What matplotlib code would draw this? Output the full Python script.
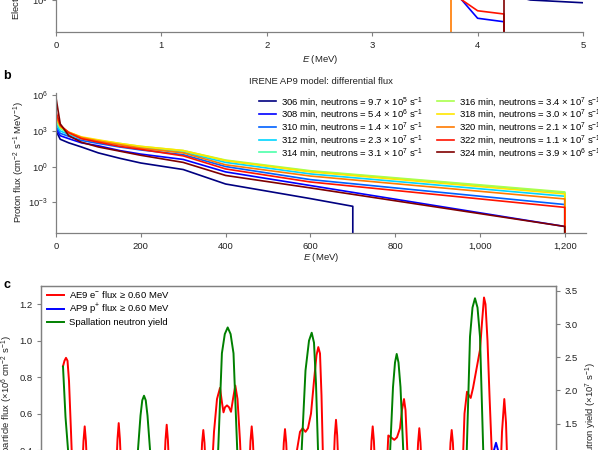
import numpy as np
import matplotlib
matplotlib.use('Agg')
import matplotlib.pyplot as plt
from matplotlib.ticker import FixedLocator, FuncFormatter, LogFormatterMathtext, NullLocator

plt.rcParams['font.family'] = ['Liberation Sans', 'DejaVu Sans']
plt.rcParams['mathtext.fontset'] = 'custom'
plt.rcParams['mathtext.rm'] = 'Liberation Sans'
plt.rcParams['mathtext.it'] = 'Liberation Sans:italic'
plt.rcParams['mathtext.bf'] = 'Liberation Sans:bold'
FS = 6.8
plt.rcParams['font.size'] = FS

# ---------------- panel a (AE9 electron differential flux, lower part only) -----------
a_E_306 = [4.0, 4.5, 5.0]
a_log_306 = [0.52, 0.0, -0.11]
a_E_308 = [3.6, 4.0, 4.25]
a_log_308 = [1.22, -0.73, -0.87]
a_E_320 = [3.5, 3.75]
a_log_320 = [2.9, 1.9]
a_E_322 = [3.5, 4.0, 4.25]
a_log_322 = [1.02, -0.43, -0.56]
a_E_324 = [4.0, 4.25]
a_log_324 = [2.4, 1.9]

# ---------------- panel b (IRENE AP9 proton differential flux) ------------------------
times_min = [306, 308, 310, 312, 314, 316, 318, 320, 322, 324]
neutron_mant = [9.7, 5.4, 1.4, 2.3, 3.1, 3.4, 3.0, 2.1, 1.1, 3.9]
neutron_exp = [5, 6, 7, 7, 7, 7, 7, 7, 7, 6]
E_grid = [0, 10, 30, 60, 100, 150, 200, 300, 400, 600, 1200]
E_grid_306 = [0, 10, 30, 60, 100, 150, 200, 300, 400, 600, 700]
logflux_306 = [3.0, 2.3, 2.0, 1.65, 1.15, 0.7, 0.3, -0.25, -1.47, -2.7, -3.35]
logflux_308 = [3.2, 2.6, 2.35, 2.0, 1.75, 1.35, 1.05, 0.6, -0.45, -1.6, -5.05]
logflux_310 = [3.4, 2.8, 2.55, 2.2, 1.95, 1.65, 1.4, 1.0, 0.0, -1.1, -3.2]
logflux_312 = [3.6, 3.0, 2.7, 2.35, 2.1, 1.85, 1.55, 1.2, 0.35, -0.62, -2.5]
logflux_314 = [3.9, 3.2, 2.8, 2.4, 2.15, 1.9, 1.65, 1.3, 0.5, -0.4, -2.2]
logflux_316 = [4.1, 3.3, 2.85, 2.45, 2.2, 1.95, 1.7, 1.35, 0.55, -0.35, -2.14]
logflux_318 = [4.2, 3.35, 2.9, 2.5, 2.25, 1.95, 1.7, 1.35, 0.5, -0.45, -2.31]
logflux_320 = [4.3, 3.4, 2.9, 2.45, 2.15, 1.85, 1.55, 1.15, 0.15, -0.8, -2.73]
logflux_322 = [4.6, 3.5, 2.85, 2.35, 2.05, 1.7, 1.45, 0.9, -0.2, -1.3, -3.44]
logflux_324 = [5.8, 3.6, 2.6, 2.05, 1.65, 1.3, 0.95, 0.35, -0.75, -1.8, -5.05]

# ---------------- panel c (time series) ------------------------------------------------
red_t = [4.4, 4.7, 5.0, 5.3, 5.6, 6.0, 6.4, 7.4,
         8.1, 8.5, 8.74, 8.98, 9.38, 11.8,
         14.9, 15.3, 15.54, 15.78, 16.18, 19.8,
         24.5, 24.9, 25.14, 25.38, 25.78, 28.8,
         31.82, 32.22, 32.46, 32.7, 33.1,
         34.0, 34.6, 35.2, 35.8, 36.2, 36.5, 36.8, 37.2, 37.6, 38.0, 38.4, 38.86, 39.3, 39.8, 40.2, 41.0,
         41.5, 41.9, 42.14, 42.38, 42.78, 45.8,
         48.16, 48.56, 48.8, 49.04, 49.44,
         50.6, 51.2, 51.8, 52.34, 52.9, 53.4, 54.0, 54.6, 55.1, 55.46, 55.8, 56.1, 56.4, 56.8,
         58.36, 58.76, 59.0, 59.24, 59.64,
         65.7, 66.1, 66.34, 66.58, 66.98,
         69.0, 69.46, 70.0, 70.66, 71.2, 71.8, 72.2, 72.6, 72.9, 73.26, 73.6,
         75.02, 75.42, 75.66, 75.9, 76.3,
         81.5, 81.9, 82.14, 82.38, 82.78,
         84.2, 84.7, 85.2, 85.6, 85.94, 86.4, 87.0, 87.8, 88.2, 88.6, 88.9, 89.3, 89.7, 90.14, 90.4,
         91.8, 92.2, 92.66, 93.0, 93.4, 95.8, 103.0]
red_flux = [0.86, 0.89, 0.906, 0.89, 0.78, 0.5, 0.2, 0.15,
            0.2, 0.45, 0.53, 0.45, 0.2, 0.15,
            0.2, 0.46, 0.548, 0.46, 0.2, 0.15,
            0.2, 0.455, 0.539, 0.455, 0.2, 0.15,
            0.2, 0.44, 0.51, 0.44, 0.2,
            0.2, 0.5, 0.68, 0.741, 0.66, 0.607, 0.635, 0.645, 0.635, 0.61, 0.68, 0.754, 0.68, 0.45, 0.2, 0.15,
            0.2, 0.45, 0.53, 0.45, 0.2, 0.15,
            0.2, 0.44, 0.515, 0.44, 0.2,
            0.2, 0.4, 0.5, 0.52, 0.5, 0.52, 0.6, 0.78, 0.92, 0.965, 0.93, 0.7, 0.35, 0.15,
            0.2, 0.48, 0.566, 0.48, 0.2,
            0.2, 0.45, 0.53, 0.45, 0.2,
            0.2, 0.48, 0.47, 0.456, 0.47, 0.52, 0.62, 0.68, 0.62, 0.4, 0.15,
            0.2, 0.44, 0.52, 0.44, 0.2,
            0.2, 0.44, 0.51, 0.44, 0.2,
            0.2, 0.6, 0.72, 0.70, 0.686, 0.74, 0.83, 0.95, 1.1, 1.237, 1.2, 1.0, 0.7, 0.4, 0.15,
            0.2, 0.5, 0.68, 0.55, 0.2, 0.15, 0.15]
blue_t = [4.4, 89.6, 90.4, 91.0, 91.6, 92.4, 103.0]
blue_flux = [0.02, 0.02, 0.38, 0.44, 0.38, 0.02, 0.02]
green_t = [4.4, 4.9, 5.4, 6.0, 6.8,
           18.0, 18.8, 19.4, 19.9, 20.25, 20.6, 20.95, 21.3, 21.8, 22.4, 23.2,
           33.0, 34.5, 35.44, 36.18, 36.76, 37.34, 37.92, 38.5, 39.24, 40.2, 41.7,
           49.8, 51.2, 52.14, 52.9, 53.6, 54.14, 54.6, 55.0, 55.4, 56.2, 57.4,
           68.6, 69.3, 69.84, 70.4, 70.8, 71.14, 71.5, 71.9, 72.44, 73.0, 73.7,
           83.3, 84.4, 85.16, 85.8, 86.3, 86.8, 87.3, 87.8, 88.44, 89.2, 90.3, 103.0]
green_yield = [2.36, 1.6, 1.11, 0.35, 0.0,
               0.0, 0.35, 1.11, 1.62, 1.85, 1.92, 1.85, 1.62, 1.11, 0.35, 0.0,
               0.0, 0.35, 1.11, 2.56, 2.85, 2.95, 2.85, 2.56, 1.11, 0.35, 0.0,
               0.0, 0.35, 1.11, 2.3, 2.75, 2.87, 2.72, 2.1, 1.11, 0.35, 0.0,
               0.0, 0.35, 1.11, 2.05, 2.42, 2.55, 2.42, 2.05, 1.11, 0.35, 0.0,
               0.0, 0.35, 1.11, 2.81, 3.25, 3.39, 3.25, 2.81, 1.11, 0.35, 0.0, 0.0]
c_labels = ['AE9 e$^{-}$ flux \u2265 0.60 MeV', 'AP9 p$^{+}$ flux \u2265 0.60 MeV', 'Spallation neutron yield']

# ---------------- figure -------------------------------------------------------------
W, H = 598, 450
fig = plt.figure(figsize=(W / 100, H / 100), dpi=100)
fig.patch.set_facecolor('white')
GRAY = '#808080'
TXT = '#222222'


def px_axes(l, t, r, b):
    return fig.add_axes([l / W, 1 - b / H, (r - l) / W, (b - t) / H])


def style(ax, spines=('left', 'bottom')):
    for s in ax.spines:
        ax.spines[s].set_visible(s in spines)
        ax.spines[s].set_color(GRAY)
        ax.spines[s].set_linewidth(0.9)
    ax.tick_params(which='major', direction='out', length=3, width=0.8, color=GRAY,
                   labelcolor=TXT, labelsize=FS)
    ax.tick_params(axis='x', pad=3.5)
    ax.tick_params(axis='y', pad=3)
    ax.tick_params(which='minor', length=0)


def ftext(x, y, s, **kw):
    kw.setdefault('color', TXT)
    kw.setdefault('fontsize', FS)
    return fig.text(x / W, 1 - y / H, s, **kw)


jet = plt.cm.jet(np.linspace(0, 1, 10))
col = dict(zip(times_min, jet))
LW = 1.2

# ---- panel a
axa = px_axes(56, -150, 583, 32)
style(axa)
axa.set_yscale('log')
axa.set_xlim(0, 5)
axa.set_ylim(10 ** -1.28, 10 ** 6)
for t, E, lg in [(306, a_E_306, a_log_306), (308, a_E_308, a_log_308), (320, a_E_320, a_log_320),
                 (322, a_E_322, a_log_322), (324, a_E_324, a_log_324)]:
    EE = np.append(E, E[-1])
    FF = np.append(10.0 ** np.array(lg), 1e-12) if t != 306 else 10.0 ** np.append(lg, lg[-1])
    axa.plot(EE, FF, color=col[t], lw=LW)
axa.xaxis.set_major_locator(FixedLocator([0, 1, 2, 3, 4, 5]))
axa.yaxis.set_major_locator(FixedLocator([1e0]))
axa.yaxis.set_major_formatter(LogFormatterMathtext())
axa.yaxis.set_minor_locator(NullLocator())
ftext(17.5, 20, 'Electron flux (cm$^{-2}$ s$^{-1}$ MeV$^{-1}$)', rotation=90, ha='center', va='bottom')
ftext(320, 60, '$E$ (MeV)', ha='center', va='center')

# ---- panel b
axb = px_axes(56, 93, 586, 233)
style(axb)
axb.set_yscale('log')
axb.set_xlim(0, 1250)
axb.set_ylim(10 ** -5.6, 10 ** 6.2)
b_curves = [logflux_306, logflux_308, logflux_310, logflux_312, logflux_314,
            logflux_316, logflux_318, logflux_320, logflux_322, logflux_324]
handles = []
labels = []
for t, lg, m, e in zip(times_min, b_curves, neutron_mant, neutron_exp):
    E = E_grid_306 if t == 306 else E_grid
    EE = np.append(E, E[-1])
    FF = np.append(10.0 ** np.array(lg), 1e-12)
    h, = axb.plot(EE, FF, color=col[t], lw=LW)
    handles.append(h)
    labels.append(f'{t} min, neutrons = {m:.1f} \u00d7 10$^{{{e}}}$ s$^{{-1}}$')
axb.xaxis.set_major_locator(FixedLocator(list(range(0, 1201, 200))))
axb.xaxis.set_major_formatter(FuncFormatter(lambda v, p: f'{v:,.0f}'))
axb.yaxis.set_major_locator(FixedLocator([1e-3, 1e0, 1e3, 1e6]))
axb.yaxis.set_major_formatter(LogFormatterMathtext())
axb.yaxis.set_minor_locator(NullLocator())
axb.legend(handles, labels, ncol=2, loc='upper left', bbox_to_anchor=(259 / W, 1 - 95 / H),
           bbox_transform=fig.transFigure, frameon=False, fontsize=FS, handlelength=1.8,
           handletextpad=0.5, columnspacing=1.5, labelspacing=-0.1, borderpad=0, borderaxespad=0)
ftext(249, 81.5, 'IRENE AP9 model: differential flux', ha='left', va='center')
ftext(19.5, 162.5, 'Proton flux (cm$^{-2}$ s$^{-1}$ MeV$^{-1}$)', rotation=90, ha='center', va='center')
ftext(321, 257, '$E$ (MeV)', ha='center', va='center')
ftext(3, 76, 'b', fontsize=9, weight='bold', color='black', ha='left', va='center')

# ---- panel c
axc = px_axes(41, 286, 556, 523)
style(axc, spines=('left', 'bottom', 'top', 'right'))
axc.set_xlim(0, 103)
axc.set_ylim(0, 1.3)
lr, = axc.plot(red_t, red_flux, color='#ff0000', lw=1.4)
lb, = axc.plot(blue_t, blue_flux, color='#0000ff', lw=1.4)
axc.yaxis.set_major_locator(FixedLocator([0.0, 0.2, 0.4, 0.6, 0.8, 1.0, 1.2]))
axc.yaxis.set_major_formatter(FuncFormatter(lambda v, p: f'{v:.1f}'))
axc2 = axc.twinx()
style(axc2, spines=('left', 'bottom', 'top', 'right'))
axc2.set_ylim(0, 3.575)
lg_, = axc2.plot(green_t, green_yield, color='#008000', lw=1.4)
axc2.yaxis.set_major_locator(FixedLocator([0.0, 0.5, 1.0, 1.5, 2.0, 2.5, 3.0, 3.5]))
axc2.yaxis.set_major_formatter(FuncFormatter(lambda v, p: f'{v:.1f}'))
axc2.legend([lr, lb, lg_], c_labels, loc='upper left', bbox_to_anchor=(47 / W, 1 - 289 / H),
            bbox_transform=fig.transFigure, frameon=False, fontsize=FS, handlelength=1.8,
            handletextpad=0.5, labelspacing=0.2, borderpad=0, borderaxespad=0)
ftext(7, 335, 'Charged-particle flux (\u00d710$^{6}$ cm$^{-2}$ s$^{-1}$)', rotation=90, ha='center', va='top')
ftext(591.5, 362, 'Neutron yield (\u00d710$^{7}$ s$^{-1}$)', rotation=90, ha='center', va='top')
ftext(3, 285, 'c', fontsize=9, weight='bold', color='black', ha='left', va='center')

fig.savefig('out.png', dpi=100, facecolor='white')
